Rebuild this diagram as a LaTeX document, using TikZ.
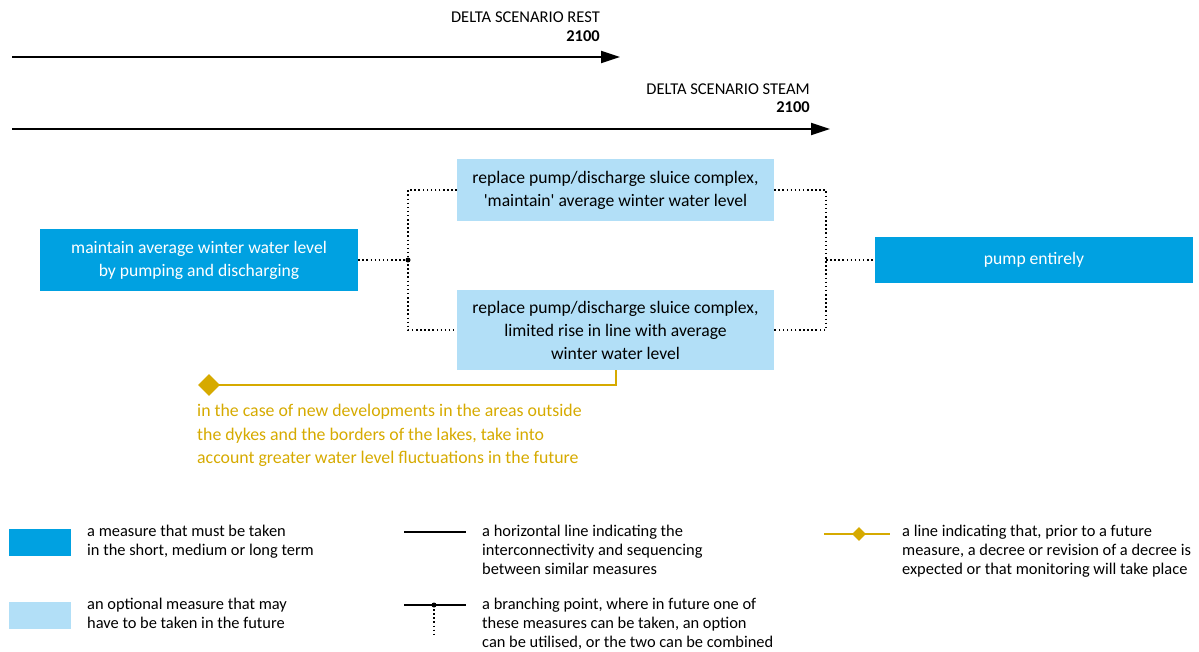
\documentclass[tikz,border=0pt]{standalone}
\usepackage{fontspec}
\setmainfont{Carlito}
\usetikzlibrary{arrows.meta,shapes.geometric}
\definecolor{darkblue}{RGB}{0,161,225}
\definecolor{lightblue}{RGB}{178,223,247}
\definecolor{gold}{RGB}{214,170,0}
\begin{document}
\begin{tikzpicture}[x=1pt,y=-1pt,
  must/.style={rectangle,fill=darkblue,text=white,align=center,inner sep=0pt,font=\fontsize{17.6}{23}\selectfont},
  opt/.style={rectangle,fill=lightblue,text=black,align=center,inner sep=0pt,font=\fontsize{17.6}{23}\selectfont},
  dotline/.style={line width=1.5pt,dash pattern=on 1.5pt off 2.6pt,black},
  timeline/.style={line width=1.8pt,-{Triangle[length=19pt,width=12pt]}},
  hdr/.style={anchor=east,inner sep=0pt,font=\fontsize{16.5}{18}\selectfont},
  goldline/.style={gold,line width=2pt},
  golddia/.style={diamond,fill=gold,inner sep=0pt,minimum width=22pt,minimum height=22pt},
  legtext/.style={anchor=north west,align=left,inner sep=0pt,font=\fontsize{16.4}{19}\selectfont},
  bdot/.style={circle,fill=black,inner sep=0pt,minimum size=5pt}
]
\useasboundingbox (0,0) rectangle (1199,652);

% timelines
\coordinate (t1s) at (12,57);
\coordinate (t1e) at (620,57);
\draw[timeline] (t1s) -- (t1e);
\node[hdr] (h1) at (600,17) {DELTA SCENARIO REST};
\node[hdr] (y1) at (600,36) {\bfseries 2100};
\coordinate (t2s) at (12,129);
\coordinate (t2e) at (830,129);
\draw[timeline] (t2s) -- (t2e);
\node[hdr] (h2) at (810,89) {DELTA SCENARIO STEAM};
\node[hdr] (y2) at (810,107) {\bfseries 2100};

% boxes
\node[must,minimum width=318pt,minimum height=62pt] (A) at (199,260) {maintain average winter water level\\by pumping and discharging};
\node[opt,minimum width=317pt,minimum height=62pt] (B1) at (615.5,190) {replace pump/discharge sluice complex,\\\textquotesingle maintain\textquotesingle{} average winter water level};
\node[opt,minimum width=317pt,minimum height=80pt] (B2) at (615.5,330) {replace pump/discharge sluice complex,\\limited rise in line with average\\winter water level};
\node[must,minimum width=318pt,minimum height=46pt] (C) at (1034,260) {pump entirely};

% connectors
\coordinate (br) at (408,260);
\coordinate (rj) at (826,260);
\draw[dotline] (A.east) -- (br);
\draw[dotline] (B1.west) -| (br) |- (B2.west);
\draw[dotline] (B1.east) -| (rj) |- (B2.east);
\draw[dotline] (rj) -- (C.west);
\node[bdot] (brdot) at (br) {};

% gold
\node[golddia] (dia) at (209,385) {};
\draw[goldline] (B2.south) |- (dia.center);
\node[anchor=north west,align=left,inner sep=0pt,text=gold,font=\fontsize{17.8}{23.5}\selectfont] (note) at (197,404) {in the case of new developments in the areas outside\\the dykes and the borders of the lakes, take into\\account greater water level fluctuations in the future};

% legend
\node[rectangle,fill=darkblue,minimum width=62pt,minimum height=27pt,inner sep=0pt] (L1) at (40,542.5) {};
\node[legtext] (L1t) at (87,525) {a measure that must be taken\\in the short, medium or long term};
\node[rectangle,fill=lightblue,minimum width=62pt,minimum height=27pt,inner sep=0pt] (L2) at (40,615.5) {};
\node[legtext] (L2t) at (87,598) {an optional measure that may\\have to be taken in the future};

\coordinate (L3a) at (404,532);
\coordinate (L3b) at (466,532);
\draw[line width=1.3pt] (L3a) -- (L3b);
\node[legtext] (L3t) at (482,525) {a horizontal line indicating the\\interconnectivity and sequencing\\between similar measures};

\coordinate (L4a) at (404,605);
\coordinate (L4b) at (466,605);
\coordinate (L4d) at (434,637);
\draw[line width=1.3pt] (L4a) -- (L4b);
\draw[dotline] (434,605) -- (L4d);
\node[bdot] (L4dot) at (434,605) {};
\node[legtext] (L4t) at (482,598) {a branching point, where in future one of\\these measures can be taken, an option\\can be utilised, or the two can be combined};

\coordinate (L5a) at (824,534);
\coordinate (L5b) at (890,534);
\draw[goldline] (L5a) -- (L5b);
\node[golddia,minimum width=14pt,minimum height=14pt] (L5d) at (859,534) {};
\node[legtext] (L5t) at (902,525) {a line indicating that, prior to a future\\measure, a decree or revision of a decree is\\expected or that monitoring will take place};
\end{tikzpicture}
\end{document}
